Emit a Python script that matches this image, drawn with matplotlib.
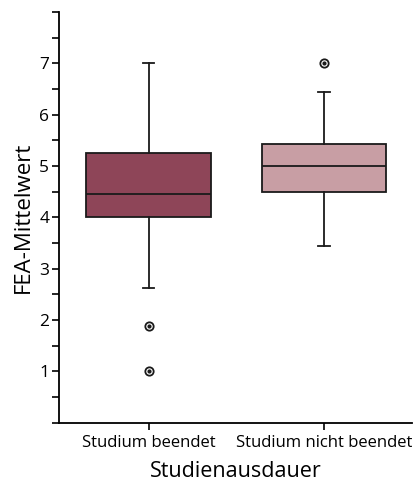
import matplotlib
matplotlib.use('Agg')
import matplotlib.pyplot as plt
from matplotlib.ticker import MultipleLocator

plt.rcParams['font.family'] = ['Open Sans', 'DejaVu Sans']

# data
groups = ['Studium beendet', 'Studium nicht beendet']
q1 = [4.0, 4.5]
medians = [4.46, 5.0]
q3 = [5.25, 5.44]
whisker_low = [2.62, 3.44]
whisker_high = [7.0, 6.45]
outliers = [[1.88, 1.0], [7.0]]
colors = ['#8E4558', '#C89EA4']

stats = []
for i in range(len(groups)):
    stats.append({'label': groups[i], 'q1': q1[i], 'med': medians[i], 'q3': q3[i],
                  'whislo': whisker_low[i], 'whishi': whisker_high[i],
                  'fliers': outliers[i]})

fig, ax = plt.subplots(figsize=(4.16, 4.86), dpi=100)
fig.subplots_adjust(left=0.142, right=0.99, top=0.975, bottom=0.13)

bp = ax.bxp(stats, positions=range(len(groups)), widths=0.71, patch_artist=True,
            showfliers=True,
            medianprops=dict(color='#1a1a1a', linewidth=1.3),
            whiskerprops=dict(color='#1a1a1a', linewidth=1.3),
            capprops=dict(color='#1a1a1a', linewidth=1.3),
            boxprops=dict(edgecolor='#1a1a1a', linewidth=1.3),
            flierprops=dict(marker='o', markersize=6, markerfacecolor='white',
                            markeredgecolor='#1a1a1a', markeredgewidth=1.3))
for patch, c in zip(bp['boxes'], colors):
    patch.set_facecolor(c)
for cap in bp['caps']:
    x0, x1 = cap.get_xdata()
    mid = (x0 + x1) / 2
    cap.set_xdata([mid - 0.032, mid + 0.032])

# inner dots of the outlier markers
for i, vals in enumerate(outliers):
    ax.plot([i] * len(vals), vals, linestyle='none', marker='o', markersize=2,
            color='#1a1a1a')

ax.set_xlim(-0.51, 1.5)
ax.set_ylim(0, 8)
ax.yaxis.set_major_locator(MultipleLocator(1))
ax.yaxis.set_minor_locator(MultipleLocator(0.5))
ax.set_yticks(range(1, 8))
ax.tick_params(axis='y', which='major', length=5, width=1.2, labelsize=12.5, pad=2)
ax.tick_params(axis='y', which='minor', length=5, width=1.2)
ax.tick_params(axis='x', length=5, width=1.2, labelsize=12, pad=4)
ax.set_xticks(range(len(groups)))
ax.set_xticklabels(groups)

for side in ['top', 'right']:
    ax.spines[side].set_visible(False)
for side in ['left', 'bottom']:
    ax.spines[side].set_linewidth(1.3)

ax.set_ylabel('FEA-Mittelwert', fontsize=16, labelpad=4)
ax.set_xlabel('Studienausdauer', fontsize=15.5, labelpad=7)

fig.savefig('out.png', dpi=100)
